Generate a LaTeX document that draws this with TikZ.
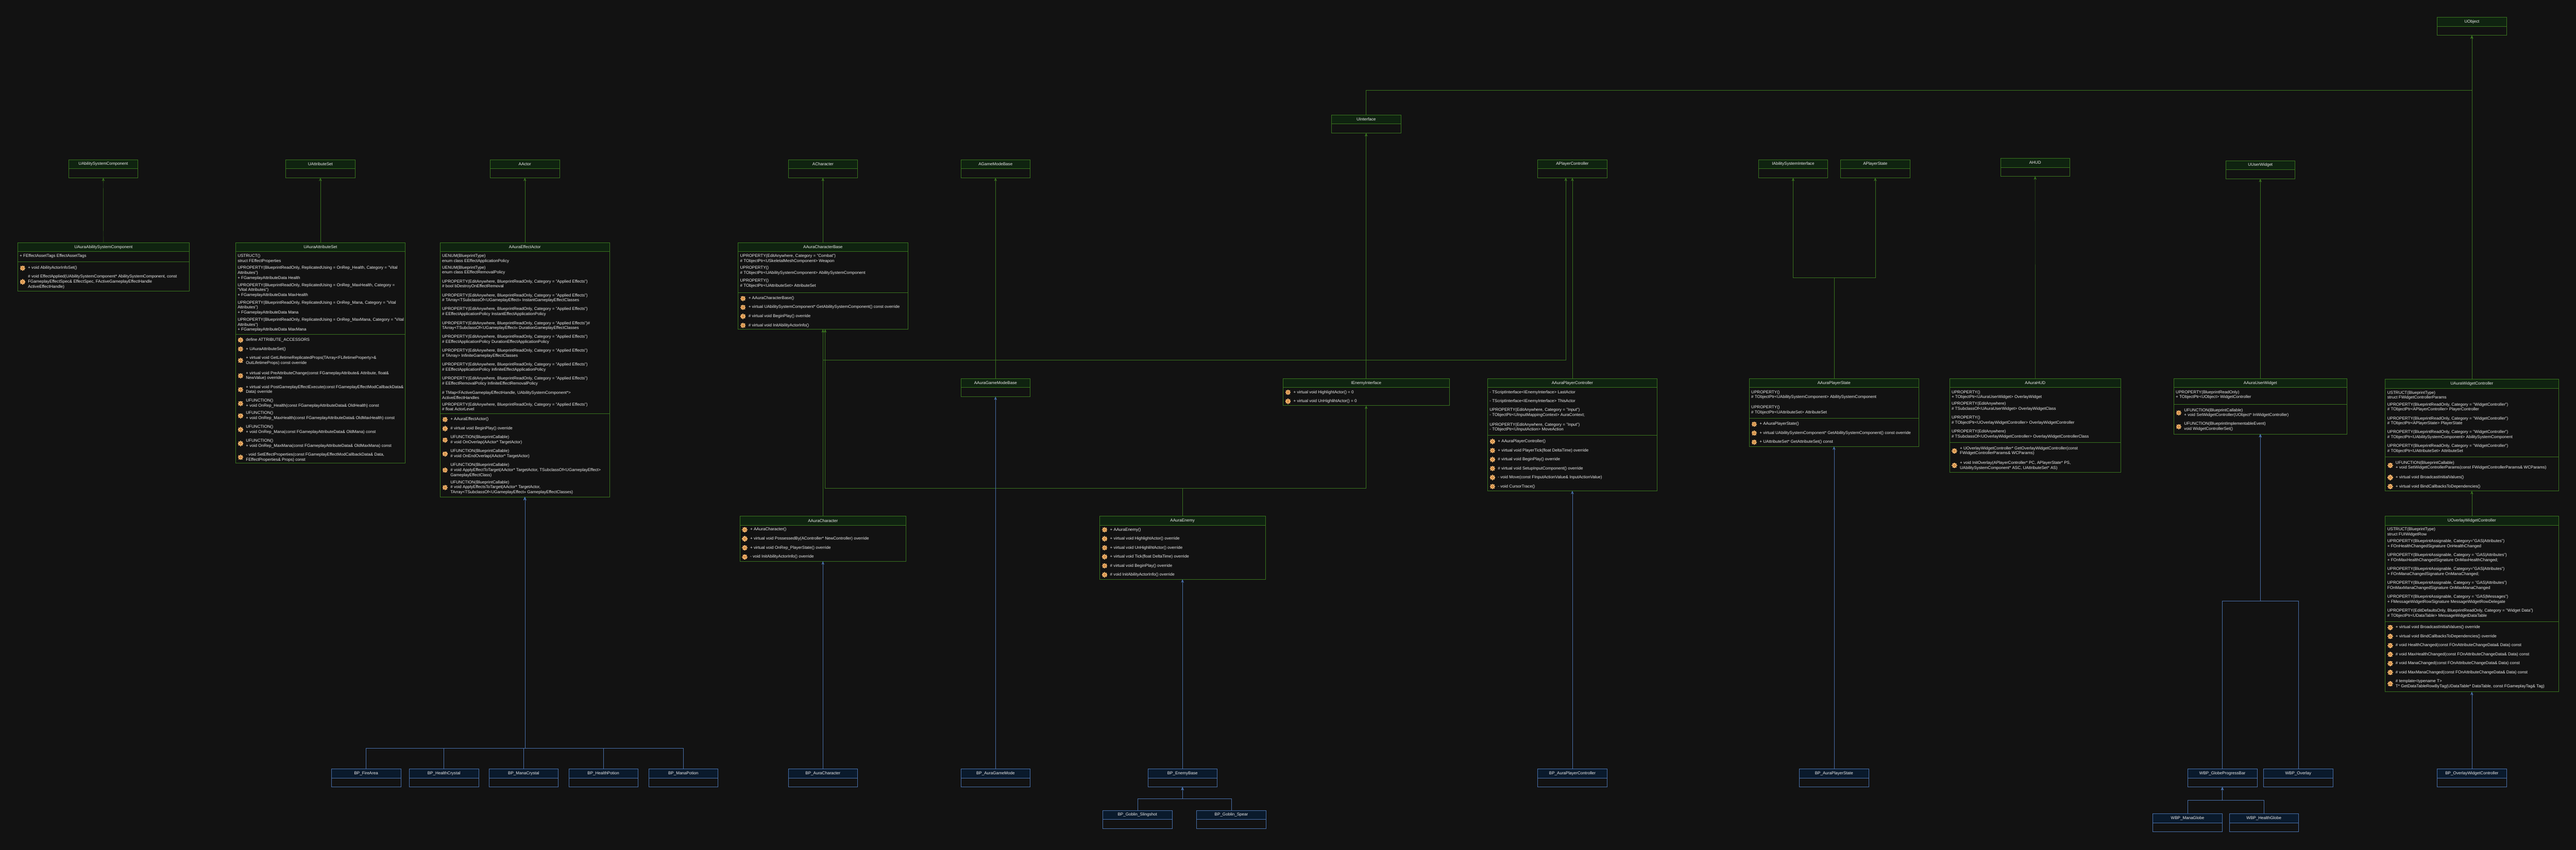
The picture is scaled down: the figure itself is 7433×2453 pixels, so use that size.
\documentclass[tikz,border=0pt]{standalone}
\usepackage{fontspec}
\setmainfont{Liberation Sans}
\usepackage{tikz}
\usetikzlibrary{arrows.meta}
\definecolor{pagebg}{HTML}{121212}
\definecolor{txtcol}{HTML}{EDEDED}
\definecolor{grnline}{HTML}{3A751F}
\definecolor{grnfill}{HTML}{0F2310}
\definecolor{bluline}{HTML}{4A72AD}
\definecolor{blufill}{HTML}{0A1A2C}
\definecolor{gearlight}{HTML}{F2B26B}
\definecolor{geardark}{HTML}{C47C35}
\tikzset{
  x=1pt, y=-1pt,
  >={Stealth[length=10pt,width=8pt]},
  umlfont/.style={font=\fontsize{12}{14.4}\selectfont, text=txtcol},
  grnbox/.style={draw=grnline, line width=1pt, inner sep=0pt, outer sep=0pt},
  blubox/.style={draw=bluline, line width=1pt, inner sep=0pt, outer sep=0pt},
  grnhead/.style={grnbox, fill=grnfill, minimum height=26pt, umlfont},
  bluhead/.style={blubox, fill=blufill, minimum height=26pt, umlfont},
  grnlink/.style={draw=grnline, line width=.7pt, ->},
  blulink/.style={draw=bluline, line width=.7pt, ->},
  txtline/.style={umlfont, anchor=west, align=left, inner sep=0pt},
  gear/.pic={
    \fill[gearlight] (0,0) circle (5.6pt);
    \foreach \a in {0,45,...,315}
      \fill[gearlight, rotate=\a] (-1.7,3.5) rectangle (1.7,7.6);
    \fill[geardark] (0,0) circle (3pt);
    \fill[gearlight] (0,0) circle (1.3pt);
  },
}
\newcounter{txtno}
% style, name, left, top, width, height, title
\newcommand{\umlclass}[7]{
  \node[#1box, minimum width=#5pt, minimum height=#6pt, anchor=north west] (#2) at (#3,#4) {};
  \node[#1head, minimum width=#5pt, anchor=north west] (#2head) at (#3,#4) {#7};
}
\newcommand{\umlsep}[3]{\draw[#1box] (#2.west |- 0,#3) -- (#2.east |- 0,#3);}
\newcommand{\member}[3]{\stepcounter{txtno}
  \node[txtline] (txt\arabic{txtno}) at ([xshift=6pt]#1.west |- 0,#2) {#3};}
\newcommand{\method}[3]{\stepcounter{txtno}
  \path ([xshift=14.5pt]#1.west |- 0,#2) pic {gear};
  \node[txtline] (txt\arabic{txtno}) at ([xshift=30pt]#1.west |- 0,#2) {#3};}
\begin{document}
\begin{tikzpicture}
  \useasboundingbox (0,0) rectangle (7433,2453);
  \fill[pagebg] (-10,-10) rectangle (7443,2463);

  % engine classes
  \umlclass{grn}{uobject}{7032.4}{50}{200}{52}{UObject}
  \umlclass{grn}{uinterface}{3842}{332}{200}{52}{UInterface}
  \umlclass{grn}{uasc}{198}{461}{200}{52}{UAbilitySystemComponent}
  \umlclass{grn}{uattrset}{824.5}{461}{200}{52}{UAttributeSet}
  \umlclass{grn}{aactor}{1414.5}{461}{200}{52}{AActor}
  \umlclass{grn}{acharacter}{2274.5}{461}{200}{52}{ACharacter}
  \umlclass{grn}{agamemode}{2772.5}{461}{200}{52}{AGameModeBase}
  \umlclass{grn}{aplayerctrl}{4437}{461}{200}{52}{APlayerController}
  \umlclass{grn}{iasi}{5074}{461}{200}{52}{IAbilitySystemInterface}
  \umlclass{grn}{aplayerstate}{5311}{461}{200}{52}{APlayerState}
  \umlclass{grn}{ahud}{5772.3}{457}{200}{52}{AHUD}
  \umlclass{grn}{uuserwidget}{6422}{464}{200}{52}{UUserWidget}

  % ability system
  \umlclass{grn}{auraasc}{50.5}{700.5}{496}{140}{UAuraAbilitySystemComponent}
  \umlsep{grn}{auraasc}{756}
  \member{auraasc}{740}{+ FEffectAssetTags EffectAssetTags}
  \method{auraasc}{774}{+ void AbilityActorInfoSet()}
  \method{auraasc}{814}{\# void EffectApplied(UAbilitySystemComponent* AbilitySystemComponent, const\\FGameplayEffectSpec\& EffectSpec, FActiveGameplayEffectHandle\\ActiveEffectHandle)}

  \umlclass{grn}{auraset}{679.5}{700.5}{490}{636}{UAuraAttributeSet}
  \umlsep{grn}{auraset}{964.7}
  \member{auraset}{747}{USTRUCT()\\struct FEffectProperties}
  \member{auraset}{788.5}{UPROPERTY(BlueprintReadOnly, ReplicatedUsing = OnRep\_Health, Category = "Vital\\Attributes")\\+ FGameplayAttributeData Health}
  \member{auraset}{838}{UPROPERTY(BlueprintReadOnly, ReplicatedUsing = OnRep\_MaxHealth, Category =\\"Vital Attributes")\\+ FGameplayAttributeData MaxHealth}
  \member{auraset}{888.5}{UPROPERTY(BlueprintReadOnly, ReplicatedUsing = OnRep\_Mana, Category = "Vital\\Attributes")\\+ FGameplayAttributeData Mana}
  \member{auraset}{938}{UPROPERTY(BlueprintReadOnly, ReplicatedUsing = OnRep\_MaxMana, Category = "Vital\\Attributes")\\+ FGameplayAttributeData MaxMana}
  \method{auraset}{981.8}{define ATTRIBUTE\_ACCESSORS}
  \method{auraset}{1007.9}{+ UAuraAttributeSet()}
  \method{auraset}{1041}{+ virtual void GetLifetimeReplicatedProps(TArray<FLifetimeProperty>\&\\OutLifetimeProps) const override}
  \method{auraset}{1085}{+ virtual void PreAttributeChange(const FGameplayAttribute\& Attribute, float\&\\NewValue) override}
  \method{auraset}{1125}{+ virtual void PostGameplayEffectExecute(const FGameplayEffectModCallbackData\&\\Data) override}
  \method{auraset}{1165}{UFUNCTION()\\+ void OnRep\_Health(const FGameplayAttributeData\& OldHealth) const}
  \method{auraset}{1200.6}{UFUNCTION()\\+ void OnRep\_MaxHealth(const FGameplayAttributeData\& OldMaxHealth) const}
  \method{auraset}{1240.6}{UFUNCTION()\\+ void OnRep\_Mana(const FGameplayAttributeData\& OldMana) const}
  \method{auraset}{1280.6}{UFUNCTION()\\+ void OnRep\_MaxMana(const FGameplayAttributeData\& OldMaxMana) const}
  \method{auraset}{1320.6}{- void SetEffectProperties(const FGameplayEffectModCallbackData\& Data,\\FEffectProperties\& Props) const}

  % actors
  \umlclass{grn}{effectactor}{1269.5}{700.5}{490}{734}{AAuraEffectActor}
  \umlsep{grn}{effectactor}{1194.4}
  \member{effectactor}{746.7}{UENUM(BlueprintType)\\enum class EEffectApplicationPolicy}
  \member{effectactor}{780.5}{UENUM(BlueprintType)\\enum class EEffectRemovalPolicy}
  \member{effectactor}{820.5}{UPROPERTY(EditAnywhere, BlueprintReadOnly, Category = "Applied Effects")\\\# bool bDestroyOnEffectRemoval}
  \member{effectactor}{860.6}{UPROPERTY(EditAnywhere, BlueprintReadOnly, Category = "Applied Effects")\\\# TArray<TSubclassOf<UGameplayEffect>> InstantGameplayEffectClasses}
  \member{effectactor}{900.4}{UPROPERTY(EditAnywhere, BlueprintReadOnly, Category = "Applied Effects")\\\# EEffectApplicationPolicy InstantEffectApplicationPolicy}
  \member{effectactor}{940.7}{UPROPERTY(EditAnywhere, BlueprintReadOnly, Category = "Applied Effects")\#\\TArray<TSubclassOf<UGameplayEffect>> DurationGameplayEffectClasses}
  \member{effectactor}{980.5}{UPROPERTY(EditAnywhere, BlueprintReadOnly, Category = "Applied Effects")\\\# EEffectApplicationPolicy DurationEffectApplicationPolicy}
  \member{effectactor}{1020.5}{UPROPERTY(EditAnywhere, BlueprintReadOnly, Category = "Applied Effects")\\\# TArray> InfiniteGameplayEffectClasses}
  \member{effectactor}{1060.6}{UPROPERTY(EditAnywhere, BlueprintReadOnly, Category = "Applied Effects")\\\# EEffectApplicationPolicy InfiniteEffectApplicationPolicy}
  \member{effectactor}{1100.4}{UPROPERTY(EditAnywhere, BlueprintReadOnly, Category = "Applied Effects")\\\# EEffectRemovalPolicy InfiniteEffectRemovalPolicy}
  \member{effectactor}{1140.7}{\# TMap<FActiveGameplayEffectHandle, UAbilitySystemComponent*>\\ActiveEffectHandles}
  \member{effectactor}{1174.5}{UPROPERTY(EditAnywhere, BlueprintReadOnly, Category = "Applied Effects")\\\# float ActorLevel}
  \method{effectactor}{1211.3}{+ AAuraEffectActor()}
  \method{effectactor}{1237.7}{\# virtual void BeginPlay() override}
  \method{effectactor}{1270.5}{UFUNCTION(BlueprintCallable)\\\# void OnOverlap(AActor* TargetActor)}
  \method{effectactor}{1310.6}{UFUNCTION(BlueprintCallable)\\\# void OnEndOverlap(AActor* TargetActor)}
  \method{effectactor}{1357.6}{UFUNCTION(BlueprintCallable)\\\# void ApplyEffectToTarget(AActor* TargetActor, TSubclassOf<UGameplayEffect>\\GameplayEffectClass)}
  \method{effectactor}{1407.6}{UFUNCTION(BlueprintCallable)\\\# void ApplyEffectsToTarget(AActor* TargetActor,\\TArray<TSubclassOf<UGameplayEffect>> GameplayEffectClasses)}

  \umlclass{grn}{charbase}{2129.5}{700.5}{490}{250}{AAuraCharacterBase}
  \umlsep{grn}{charbase}{844.5}
  \member{charbase}{747}{UPROPERTY(EditAnywhere, Category = "Combat")\\\# TObjectPtr<USkeletalMeshComponent> Weapon}
  \member{charbase}{780.8}{UPROPERTY()\\\# TObjectPtr<UAbilitySystemComponent> AbilitySystemComponent}
  \member{charbase}{818.4}{UPROPERTY()\\\# TObjectPtr<UAttributeSet> AttributeSet}
  \method{charbase}{861.8}{+ AAuraCharacterBase()}
  \method{charbase}{887.3}{+ virtual UAbilitySystemComponent* GetAbilitySystemComponent() const override}
  \method{charbase}{913.4}{\# virtual void BeginPlay() override}
  \method{charbase}{939.6}{\# virtual void InitAbilityActorInfo()}

  \umlclass{grn}{auramode}{2772.5}{1093}{200}{52}{AAuraGameModeBase}

  \umlclass{grn}{auracharacter}{2134.5}{1490.5}{480}{130}{AAuraCharacter}
  \method{auracharacter}{1529.5}{+ AAuraCharacter()}
  \method{auracharacter}{1555.6}{+ virtual void PossessedBy(AController* NewController) override}
  \method{auracharacter}{1581.8}{+ virtual void OnRep\_PlayerState() override}
  \method{auracharacter}{1608}{- void InitAbilityActorInfo() override}

  \umlclass{grn}{auraenemy}{3173}{1490.5}{478}{182}{AAuraEnemy}
  \method{auraenemy}{1529.7}{+ AAuraEnemy()}
  \method{auraenemy}{1555.7}{+ virtual void HighlightActor() override}
  \method{auraenemy}{1581.7}{+ virtual void UnHighlihtActor() override}
  \method{auraenemy}{1607.7}{+ virtual void Tick(float DeltaTime) override}
  \method{auraenemy}{1633.7}{\# virtual void BeginPlay() override}
  \method{auraenemy}{1659.7}{\# void InitAbilityActorInfo() override}

  \umlclass{grn}{ienemy}{3702}{1093}{480}{78}{IEnemyInterface}
  \method{ienemy}{1132.7}{+ virtual void HighlightActor() = 0}
  \method{ienemy}{1158.7}{+ virtual void UnHighlihtActor() = 0}

  \umlclass{grn}{auractrl}{4292}{1093}{490}{324}{AAuraPlayerController}
  \umlsep{grn}{auractrl}{1257.3}
  \member{auractrl}{1132.7}{- TScriptInterface<IEnemyInterface> LastActor}
  \member{auractrl}{1158.7}{- TScriptInterface<IEnemyInterface> ThisActor}
  \member{auractrl}{1191.7}{UPROPERTY(EditAnywhere, Category = "Input")\\- TObjectPtr<UInputMappingContext> AuraContext;}
  \member{auractrl}{1233.7}{UPROPERTY(EditAnywhere, Category = "Input")\\- TObjectPtr<UInputAction> MoveAction}
  \method{auractrl}{1274.7}{+ AAuraPlayerController()}
  \method{auractrl}{1300.7}{+ virtual void PlayerTick(float DeltaTime) override}
  \method{auractrl}{1326.7}{\# virtual void BeginPlay() override}
  \method{auractrl}{1352.7}{\# virtual void SetupInputComponent() override}
  \method{auractrl}{1378.7}{- void Move(const FInputActionValue\& InputActionValue)}
  \method{auractrl}{1404.7}{- void CursorTrace()}

  \umlclass{grn}{aurastate}{5047}{1093}{490}{196}{AAuraPlayerState}
  \umlsep{grn}{aurastate}{1207}
  \member{aurastate}{1140}{UPROPERTY()\\\# TObjectPtr<UAbilitySystemComponent> AbilitySystemComponent}
  \member{aurastate}{1184}{UPROPERTY()\\\# TObjectPtr<UAttributeSet> AttributeSet}
  \method{aurastate}{1224.7}{+ AAuraPlayerState()}
  \method{aurastate}{1250.7}{+ virtual UAbilitySystemComponent* GetAbilitySystemComponent() const override}
  \method{aurastate}{1276.7}{+ UAttributeSet* GetAttributeSet() const}

  % UI
  \umlclass{grn}{aurahud}{5625}{1093}{495}{270}{AAuraHUD}
  \umlsep{grn}{aurahud}{1277}
  \member{aurahud}{1140}{UPROPERTY()\\+ TObjectPtr<UAuraUserWidget> OverlayWidget}
  \member{aurahud}{1174}{UPROPERTY(EditAnywhere)\\\# TSubclassOf<UAuraUserWidget> OverlayWidgetClass}
  \member{aurahud}{1214}{UPROPERTY()\\\# TObjectPtr<UOverlayWidgetController> OverlayWidgetController}
  \member{aurahud}{1254}{UPROPERTY(EditAnywhere)\\\# TSubclassOf<UOverlayWidgetController> OverlayWidgetControllerClass}
  \method{aurahud}{1302}{+ UOverlayWidgetController* GetOverlayWidgetController(const\\FWidgetControllerParams\& WCParams)}
  \method{aurahud}{1344}{+ void InitOverlay(APlayerController* PC, APlayerState* PS,\\UAbilitySystemComponent* ASC, UAttributeSet* AS)}

  \umlclass{grn}{aurawidget}{6272}{1093}{500}{160}{AAuraUserWidget}
  \umlsep{grn}{aurawidget}{1167}
  \member{aurawidget}{1140}{UPROPERTY(BlueprintReadOnly)\\+ TObjectPtr<UObject> WidgetController}
  \method{aurawidget}{1192}{UFUNCTION(BlueprintCallable)\\+ void SetWidgetController(UObject* InWidgetController)}
  \method{aurawidget}{1232}{UFUNCTION(BlueprintImplementableEvent)\\void WidgetControllerSet()}

  \umlclass{grn}{uawc}{6882.4}{1095.3}{500}{322}{UAuraWidgetController}
  \umlsep{grn}{uawc}{1319.3}
  \member{uawc}{1141.7}{USTRUCT(BlueprintType)\\struct FWidgetControllerParams}
  \member{uawc}{1175.7}{UPROPERTY(BlueprintReadOnly, Category = "WidgetController")\\\# TObjectPtr<APlayerController> PlayerController}
  \member{uawc}{1215.7}{UPROPERTY(BlueprintReadOnly, Category = "WidgetController")\\\# TObjectPtr<APlayerState> PlayerState}
  \member{uawc}{1255.7}{UPROPERTY(BlueprintReadOnly, Category = "WidgetController")\\\# TObjectPtr<UAbilitySystemComponent> AbilitySystemComponent}
  \member{uawc}{1295.7}{UPROPERTY(BlueprintReadOnly, Category = "WidgetController")\\\# TObjectPtr<UAttributeSet> AttributeSet}
  \method{uawc}{1343.7}{UFUNCTION(BlueprintCallable)\\+ void SetWidgetControllerParams(const FWidgetControllerParams\& WCParams)}
  \method{uawc}{1378.7}{+ virtual void BroadcastInitialValues()}
  \method{uawc}{1404.7}{+ virtual void BindCallbacksToDependencies()}

  \umlclass{grn}{uowc}{6882.4}{1490.3}{500}{507}{UOverlayWidgetController}
  \umlsep{grn}{uowc}{1794.3}
  \member{uowc}{1536.7}{USTRUCT(BlueprintType)\\struct FUIWidgetRow}
  \member{uowc}{1570.7}{UPROPERTY(BlueprintAssignable, Category="GAS|Attributes")\\+ FOnHealthChangedSignature OnHealthChanged}
  \member{uowc}{1610.7}{UPROPERTY(BlueprintAssignable, Category = "GAS|Attributes")\\+ FOnMaxHealthChangedSignature OnMaxHealthChanged;}
  \member{uowc}{1650.7}{UPROPERTY(BlueprintAssignable, Category="GAS|Attributes")\\+ FOnManaChangedSignature OnManaChanged;}
  \member{uowc}{1690.7}{UPROPERTY(BlueprintAssignable, Category = "GAS|Attributes")\\FOnMaxManaChangedSignature OnMaxManaChanged}
  \member{uowc}{1730.7}{UPROPERTY(BlueprintAssignable, Category = "GAS|Messages")\\+ FMessageWidgetRowSignature MessageWidgetRowDelegate}
  \member{uowc}{1770.7}{UPROPERTY(EditDefaultsOnly, BlueprintReadOnly, Category = "Widget Data")\\\# TObjectPtr<UDataTable> MessageWidgetDataTable}
  \method{uowc}{1811.7}{+ virtual void BroadcastInitialValues() override}
  \method{uowc}{1837.7}{+ virtual void BindCallbacksToDependencies() override}
  \method{uowc}{1863.7}{\# void HealthChanged(const FOnAttributeChangeData\& Data) const}
  \method{uowc}{1889.7}{\# void MaxHealthChanged(const FOnAttributeChangeData\& Data) const}
  \method{uowc}{1915.7}{\# void ManaChanged(const FOnAttributeChangeData\& Data) const}
  \method{uowc}{1941.7}{\# void MaxManaChanged(const FOnAttributeChangeData\& Data) const}
  \method{uowc}{1974.7}{\# template<typename T>\\T* GetDataTableRowByTag(UDataTable* DataTable, const FGameplayTag\& Tag)}

  % blueprints
  \umlclass{blu}{bpfire}{956.5}{2220}{200}{52}{BP\_FireArea}
  \umlclass{blu}{bphealthcrystal}{1181}{2220}{200}{52}{BP\_HealthCrystal}
  \umlclass{blu}{bpmanacrystal}{1411}{2220}{200}{52}{BP\_ManaCrystal}
  \umlclass{blu}{bphealthpotion}{1641}{2220}{200}{52}{BP\_HealthPotion}
  \umlclass{blu}{bpmanapotion}{1871.5}{2220}{200}{52}{BP\_ManaPotion}
  \umlclass{blu}{bpcharacter}{2274.5}{2220}{200}{52}{BP\_AuraCharacter}
  \umlclass{blu}{bpmode}{2772.5}{2220}{200}{52}{BP\_AuraGameMode}
  \umlclass{blu}{bpenemy}{3312}{2220}{200}{52}{BP\_EnemyBase}
  \umlclass{blu}{bpslingshot}{3182}{2340}{200}{52}{BP\_Goblin\_Slingshot}
  \umlclass{blu}{bpspear}{3453}{2340}{200}{52}{BP\_Goblin\_Spear}
  \umlclass{blu}{bpctrl}{4437}{2220}{200}{52}{BP\_AuraPlayerController}
  \umlclass{blu}{bpstate}{5192}{2220}{200}{52}{BP\_AuraPlayerState}
  \umlclass{blu}{wbpglobe}{6312.5}{2220}{200}{52}{WBP\_GlobeProgressBar}
  \umlclass{blu}{wbpoverlay}{6531.5}{2220}{200}{52}{WBP\_Overlay}
  \umlclass{blu}{wbpmana}{6212}{2350}{200}{52}{WBP\_ManaGlobe}
  \umlclass{blu}{wbphealth}{6432.5}{2350}{200}{52}{WBP\_HealthGlobe}
  \umlclass{blu}{bpowc}{7032.4}{2220}{200}{52}{BP\_OverlayWidgetController}

  \coordinate (objbus) at (7132.4,261);
  \coordinate (statebus) at (5292,801);
  \coordinate (enemybus) at (3412,1410);
  \coordinate (ctrlbus) at (4518,1040);
  \coordinate (potionbus) at (1514.5,2161);
  \coordinate (goblinbus) at (3412,2306);
  \coordinate (widgetbus) at (6522,1735);
  \coordinate (globebus) at (6412.5,2311);

  \draw[grnlink] (auraasc.north) -- (uasc.south);
  \draw[grnlink] (auraset.north) -- (uattrset.south);
  \draw[grnlink] (effectactor.north) -- (aactor.south);
  \draw[grnlink] (charbase.north) -- (acharacter.south);
  \draw[grnlink] (auramode.north) -- (agamemode.south);
  \draw[grnlink] (ienemy.north) -- (uinterface.south);
  \draw[grnlink] (auractrl.north) -- (aplayerctrl.south);
  \draw[grnlink] (aurastate.north) -- (statebus) -| (iasi.south);
  \draw[grnlink] (aurastate.north) -- (statebus) -| (aplayerstate.south);
  \draw[grnlink] (aurahud.north) -- (ahud.south);
  \draw[grnlink] (aurawidget.north) -- (uuserwidget.south);
  \draw[grnlink] (uawc.north) -- (uobject.south);
  \draw[grnlink] (uinterface.north) |- (objbus) -- (uobject.south);
  \draw[grnlink] (uowc.north) -- (uawc.south);
  \draw[grnlink] (auracharacter.north) -- (auracharacter.north |- charbase.south);
  \draw[grnlink] (auraenemy.north) -- (enemybus) -| ([xshift=6.5pt]charbase.south);
  \draw[grnlink] (auraenemy.north) -- (enemybus) -| (ienemy.south);
  \draw[grnlink] (charbase.south) |- (ctrlbus) -- (ctrlbus |- aplayerctrl.south);

  \draw[blulink] (bpfire.north) |- (potionbus) -- (effectactor.south);
  \draw[blulink] (bphealthcrystal.north) |- (potionbus) -- (effectactor.south);
  \draw[blulink] (bpmanacrystal.north) |- (potionbus) -- (effectactor.south);
  \draw[blulink] (bphealthpotion.north) |- (potionbus) -- (effectactor.south);
  \draw[blulink] (bpmanapotion.north) |- (potionbus) -- (effectactor.south);
  \draw[blulink] (bpcharacter.north) -- (auracharacter.south);
  \draw[blulink] (bpmode.north) -- (auramode.south);
  \draw[blulink] (bpenemy.north) -- (auraenemy.south);
  \draw[blulink] (bpslingshot.north) |- (goblinbus) -- (bpenemy.south);
  \draw[blulink] (bpspear.north) |- (goblinbus) -- (bpenemy.south);
  \draw[blulink] (bpctrl.north) -- (auractrl.south);
  \draw[blulink] (bpstate.north) -- (aurastate.south);
  \draw[blulink] (wbpglobe.north) |- (widgetbus) -- (aurawidget.south);
  \draw[blulink] (wbpoverlay.north) |- (widgetbus) -- (aurawidget.south);
  \draw[blulink] (wbpmana.north) |- (globebus) -- (wbpglobe.south);
  \draw[blulink] (wbphealth.north) |- (globebus) -- (wbpglobe.south);
  \draw[blulink] (bpowc.north) -- (uowc.south);
\end{tikzpicture}
\end{document}
